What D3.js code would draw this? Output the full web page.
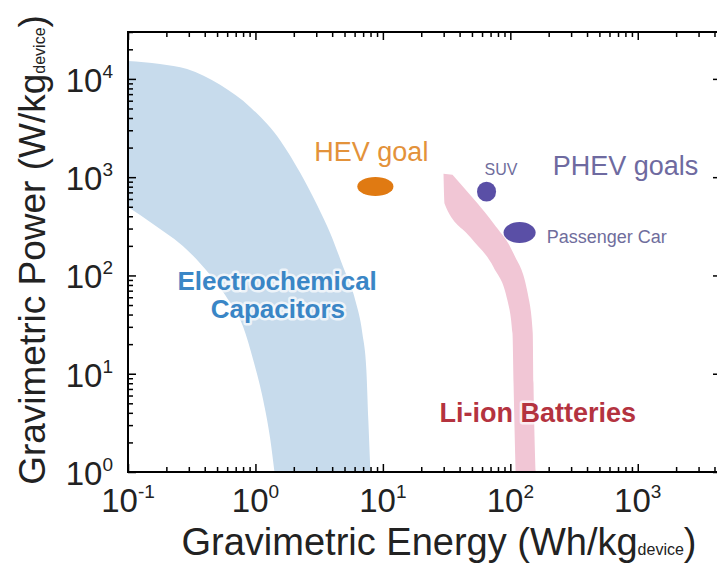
<!DOCTYPE html>
<html>
<head>
    <title></title>
    <meta charset="utf-8" />
    <style>
        body { margin: 0; background: #fff; }
        svg { display: block; font-family: "Liberation Sans", Arial, sans-serif; }
    </style>
    <script src="https://d3js.org/d3.v7.min.js"></script>
</head>
<body>

<svg id="svg"></svg>

<script>

// axis decades and their exponent labels
let energyDecades = [0.1, 1, 10, 100, 1000];
let energyExp = ["-1", "0", "1", "2", "3"];
let powerDecades = [1, 10, 100, 1000, 10000];
let powerExp = ["0", "1", "2", "3", "4"];

// Electrochemical capacitors region: outer edge top->bottom, inner edge top->bottom
let capOuter = [[0.1, 15200], [0.178, 14200], [0.291, 12600], [0.528, 8700], [0.92, 5100],
    [1.57, 2350], [2.25, 1100], [3.06, 514], [3.87, 267], [4.89, 121], [6.08, 55.7],
    [6.9, 25.8], [7.42, 10.9], [7.69, 3.37], [7.98, 1]];
let capInner = [[0.1, 497], [0.157, 334], [0.291, 182], [0.441, 101], [0.634, 52.4],
    [0.802, 29.9], [0.961, 13.8], [1.15, 5.4], [1.31, 2.12], [1.41, 1]];

// Li-ion band: left edge top->bottom, right edge top->bottom
let liLeft = [[29.9, 1085], [30.5, 538], [48.8, 243], [73.9, 121], [95, 55.7], [104, 25.8], [106, 8], [110, 1]];
let liRight = [[35.2, 1060], [40.6, 859], [73.9, 337], [106, 167], [137, 65.6], [150, 25.8], [152, 8], [158, 1]];

// goals: name, energy range, power range, colour
let goalNames = ["HEV", "SUV", "Passenger Car"];
let goalEnergy = [[6.3, 12.1], [54.8, 77.3], [88.5, 158]];
let goalPower = [[642, 1002], [564, 900], [214, 349]];
let goalColors = ["#e07a12", "#5a4fa6", "#5a4fa6"];

let W = 717;
let H = 565;
let mLeft = 128, mRight = 721, mTop = 32, mBottom = 472;

let svg = d3.select("#svg")
    .attr("width", W)
    .attr("height", H);

let x = d3.scaleLog().domain([0.1, 4500]).range([mLeft, mRight]);
let y = d3.scaleLog().domain([1, 30000]).range([mBottom, mTop]);

function minors(decades, max) {
    let out = [];
    decades.forEach(d => {
        for (let m = 2; m <= 9; m++) {
            if (d * m <= max) out.push(d * m);
        }
    });
    return out;
}

let energyMinor = minors(energyDecades, 4500);
let powerMinor = minors(powerDecades, 30000);

svg.append("clipPath").attr("id", "plot")
    .append("rect")
    .attr("x", mLeft).attr("y", mTop)
    .attr("width", mRight - mLeft).attr("height", mBottom - mTop);

let plot = svg.append("g").attr("clip-path", "url(#plot)");

let line = d3.line()
    .x(d => x(d[0]))
    .y(d => y(d[1]))
    .curve(d3.curveMonotoneX);

function band(a, b) {
    let back = b.slice().reverse();
    return line(a) + line(back).replace(/^M/, "L") + "Z";
}

plot.append("path")
    .attr("d", band(capOuter, capInner))
    .attr("fill", "#c7dbec");

plot.append("path")
    .attr("d", band(liLeft, liRight))
    .attr("fill", "#f1c6d5");

// goal ellipses
plot.selectAll(".goal")
    .data(goalNames)
    .enter()
    .append("ellipse")
    .attr("class", "goal")
    .attr("cx", (d, i) => (x(goalEnergy[i][0]) + x(goalEnergy[i][1])) / 2)
    .attr("cy", (d, i) => (y(goalPower[i][0]) + y(goalPower[i][1])) / 2)
    .attr("rx", (d, i) => (x(goalEnergy[i][1]) - x(goalEnergy[i][0])) / 2)
    .attr("ry", (d, i) => (y(goalPower[i][0]) - y(goalPower[i][1])) / 2)
    .attr("fill", (d, i) => goalColors[i]);

// annotations: text, energy, power, anchor, size, weight, colour, halo
let notes = [
    ["HEV goal", 8.12, 1458, "middle", 27, "normal", "#e3923a", false],
    ["SUV", 62.8, 1050, "start", 16, "normal", "#6f6d9c", false],
    ["PHEV goals", 215, 1050, "start", 27, "normal", "#6e6aa0", false],
    ["Passenger Car", 193, 214, "start", 18, "normal", "#6f6d9c", false],
    ["Electrochemical", 1.48, 71, "middle", 26, "bold", "#3a86c6", true],
    ["Capacitors", 1.5, 37, "middle", 26, "bold", "#3a86c6", true],
    ["Li-ion Batteries", 164, 3.23, "middle", 27, "bold", "#b4333f", true]
];

svg.selectAll(".note")
    .data(notes)
    .enter()
    .append("text")
    .attr("class", "note")
    .attr("x", d => x(d[1]))
    .attr("y", d => y(d[2]))
    .attr("text-anchor", d => d[3])
    .attr("font-size", d => d[4])
    .attr("font-weight", d => d[5])
    .attr("fill", d => d[6])
    .attr("stroke", d => d[7] ? "#fff" : "none")
    .attr("stroke-width", 5)
    .attr("stroke-opacity", 0.7)
    .attr("stroke-linejoin", "round")
    .attr("paint-order", "stroke")
    .text(d => d[0]);

// axes: major + minor ticks, pointing inward
function axisPair(maker, scale, pos, transform, minorSize) {
    let g = svg.append("g").attr("transform", transform);
    g.call(maker(scale).tickValues(pos.major).tickSize(-8).tickFormat(""));
    let m = svg.append("g").attr("transform", transform);
    m.call(maker(scale).tickValues(pos.minor).tickSize(-minorSize).tickFormat(""));
    [g, m].forEach(s => {
        s.select(".domain").remove();
        s.selectAll(".tick line").attr("stroke", "#000").attr("stroke-width", 1.5);
    });
}

let ex = { major: energyDecades, minor: energyMinor };
let py = { major: powerDecades, minor: powerMinor };

axisPair(d3.axisBottom, x, ex, `translate(0,${mBottom})`, 5);
axisPair(d3.axisTop, x, ex, `translate(0,${mTop})`, 5);
axisPair(d3.axisLeft, y, py, `translate(${mLeft},0)`, 5);
// right edge sits just off the page, only the long ticks peek in
axisPair(d3.axisRight, y, py, `translate(${mRight},0)`, 3);

// frame
svg.append("rect")
    .attr("x", mLeft).attr("y", mTop)
    .attr("width", mRight - mLeft).attr("height", mBottom - mTop)
    .attr("fill", "none")
    .attr("stroke", "#000")
    .attr("stroke-width", 2);

// tick labels with superscript exponents
let xl = svg.selectAll(".xlab")
    .data(energyDecades)
    .enter()
    .append("text")
    .attr("class", "xlab")
    .attr("x", d => x(d))
    .attr("y", mBottom + 40)
    .attr("text-anchor", "middle")
    .attr("font-size", 33)
    .attr("fill", "#222");
xl.append("tspan").text("10");
xl.append("tspan").attr("dy", -14).attr("font-size", 19).text((d, i) => energyExp[i]);

let yl = svg.selectAll(".ylab")
    .data(powerDecades)
    .enter()
    .append("text")
    .attr("class", "ylab")
    .attr("x", mLeft - 15)
    .attr("y", d => y(d) + 13)
    .attr("text-anchor", "end")
    .attr("font-size", 33)
    .attr("fill", "#222");
yl.append("tspan").text("10");
yl.append("tspan").attr("dy", -14).attr("font-size", 19).text((d, i) => powerExp[i]);

// axis titles
let xt = svg.append("text")
    .attr("x", 439)
    .attr("y", 555)
    .attr("text-anchor", "middle")
    .attr("font-size", 38)
    .attr("fill", "#222");
xt.append("tspan").text("Gravimetric Energy (Wh/kg");
xt.append("tspan").attr("font-size", 16).text("device");
xt.append("tspan").text(")");

let yt = svg.append("text")
    .attr("transform", "translate(45,250) rotate(-90)")
    .attr("text-anchor", "middle")
    .attr("font-size", 37)
    .attr("fill", "#222");
yt.append("tspan").text("Gravimetric Power (W/kg");
yt.append("tspan").attr("font-size", 16).text("device");
yt.append("tspan").text(")");

</script>

</body>
</html>
